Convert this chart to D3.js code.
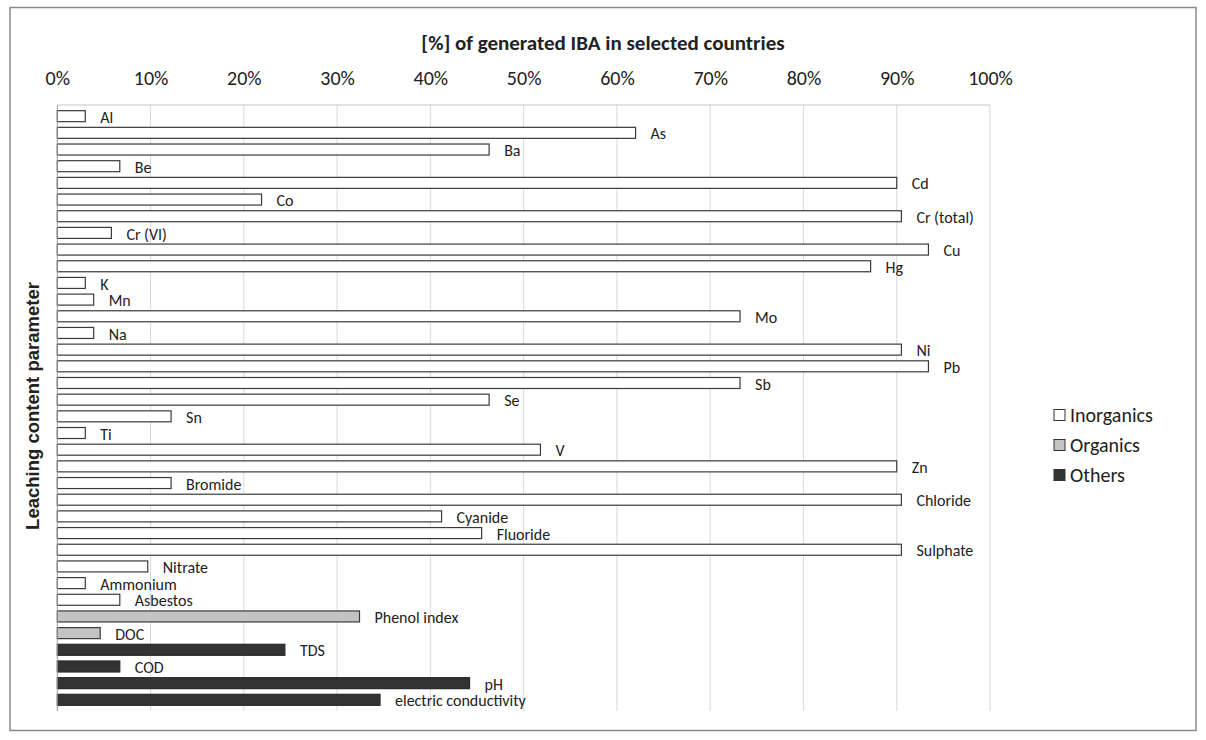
<!DOCTYPE html>
<html>
<head>
<meta charset="utf-8">
<script src="https://cdn.jsdelivr.net/npm/d3@7"></script>
<style>
  body { margin: 0; background: #fff; }
  svg text { font-family: Carlito, Calibri, Lato, "Open Sans", sans-serif; fill: #222; }
</style>
</head>
<body>
<div id="chart"></div>
<script>
// leaching parameters, top to bottom
var params = ["Al", "As", "Ba", "Be", "Cd", "Co", "Cr (total)", "Cr (VI)", "Cu", "Hg",
    "K", "Mn", "Mo", "Na", "Ni", "Pb", "Sb", "Se", "Sn", "Ti", "V", "Zn",
    "Bromide", "Chloride", "Cyanide", "Fluoride", "Sulphate", "Nitrate", "Ammonium", "Asbestos",
    "Phenol index", "DOC", "TDS", "COD", "pH", "electric conductivity"];
// [%] of generated IBA
var shares = [3, 62, 46.3, 6.7, 90, 21.9, 90.5, 5.8, 93.4, 87.2,
    3, 3.9, 73.2, 3.9, 90.5, 93.4, 73.2, 46.3, 12.2, 3, 51.8, 90,
    12.2, 90.5, 41.2, 45.5, 90.5, 9.7, 3, 6.7,
    32.4, 4.6, 24.4, 6.7, 44.2, 34.6];
var groups = ["Inorganics", "Inorganics", "Inorganics", "Inorganics", "Inorganics", "Inorganics", "Inorganics", "Inorganics", "Inorganics", "Inorganics",
    "Inorganics", "Inorganics", "Inorganics", "Inorganics", "Inorganics", "Inorganics", "Inorganics", "Inorganics", "Inorganics", "Inorganics", "Inorganics", "Inorganics",
    "Inorganics", "Inorganics", "Inorganics", "Inorganics", "Inorganics", "Inorganics", "Inorganics", "Inorganics",
    "Organics", "Organics", "Others", "Others", "Others", "Others"];
var groupNames = ["Inorganics", "Organics", "Others"];
var ticks = [0, 10, 20, 30, 40, 50, 60, 70, 80, 90, 100];

var width = 1206, height = 740;
var plot = {left: 57.3, right: 990, top: 105, bottom: 711};

var svg = d3.select("#chart").append("svg")
    .attr("width", width)
    .attr("height", height);

// outer frame
svg.append("rect")
    .attr("x", 10).attr("y", 7.5)
    .attr("width", 1186).attr("height", 723)
    .attr("fill", "none").attr("stroke", "#8a8a8a").attr("stroke-width", 1.5);

var x = d3.scaleLinear().domain([0, 100]).range([plot.left, plot.right]);
var y = d3.scaleBand().domain(params).range([plot.top, plot.bottom]).padding(0.34);
var fill = d3.scaleOrdinal().domain(groupNames).range(["#ffffff", "#c3c3c3", "#333333"]);

// grid
svg.append("g").selectAll("line")
    .data(ticks.slice(1))
    .enter().append("line")
    .attr("x1", function (d) { return x(d); })
    .attr("x2", function (d) { return x(d); })
    .attr("y1", plot.top).attr("y2", plot.bottom)
    .attr("stroke", "#d9d9d9").attr("stroke-width", 1);

svg.append("line")
    .attr("x1", plot.left).attr("x2", plot.right)
    .attr("y1", plot.top).attr("y2", plot.top)
    .attr("stroke", "#c8c8c8");

// top axis, labels only
var axis = svg.append("g")
    .attr("transform", "translate(0," + 78 + ")")
    .call(d3.axisTop(x).tickValues(ticks).tickFormat(function (d) { return d + "%"; }).tickSize(0).tickPadding(0));
axis.select(".domain").remove();
axis.selectAll("text")
    .attr("dy", "0.35em")
    .style("font-size", "20px")
    .style("fill", "#222");

// bars
var data = params.map(function (p, i) { return {name: p, value: shares[i], group: groups[i]}; });

svg.append("g").selectAll("rect")
    .data(data)
    .enter().append("rect")
    .attr("x", x(0))
    .attr("y", function (d) { return y(d.name); })
    .attr("width", function (d) { return x(d.value) - x(0); })
    .attr("height", y.bandwidth())
    .attr("fill", function (d) { return fill(d.group); })
    .attr("stroke", function (d) { return d.group == "Others" ? "#2a2a2a" : "#3a3a3a"; })
    .attr("stroke-width", 1.2);

svg.append("g").selectAll("text")
    .data(data)
    .enter().append("text")
    .attr("x", function (d) { return x(d.value) + 15; })
    .attr("y", function (d) { return y(d.name) + y.bandwidth() / 2 + 1; })
    .attr("dy", "0.35em")
    .style("font-size", "16px")
    .text(function (d) { return d.name; });

// left axis line
svg.append("line")
    .attr("x1", plot.left).attr("x2", plot.left)
    .attr("y1", plot.top).attr("y2", plot.bottom)
    .attr("stroke", "#9a9a9a");

// titles
svg.append("text")
    .attr("x", 603).attr("y", 43)
    .attr("text-anchor", "middle").attr("dy", "0.35em")
    .style("font-size", "21px").style("font-weight", "bold")
    .text("[%] of generated IBA in selected countries");

svg.append("text")
    .attr("transform", "translate(33,406) rotate(-90)")
    .attr("text-anchor", "middle").attr("dy", "0.35em")
    .style("font-family", "'Liberation Sans', Arial, sans-serif")
    .style("font-size", "18.5px").style("font-weight", "bold")
    .text("Leaching content parameter");

// legend
var legend = svg.append("g").selectAll("g")
    .data(groupNames)
    .enter().append("g")
    .attr("transform", function (d, i) { return "translate(1054," + (415 + i * 30) + ")"; });

legend.append("rect")
    .attr("x", 0).attr("y", -5.5)
    .attr("width", 11).attr("height", 11)
    .attr("fill", function (d) { return fill(d); })
    .attr("stroke", "#333").attr("stroke-width", 1);

legend.append("text")
    .attr("x", 16).attr("y", 0).attr("dy", "0.35em")
    .style("font-size", "20px")
    .text(function (d) { return d; });
</script>
</body>
</html>
